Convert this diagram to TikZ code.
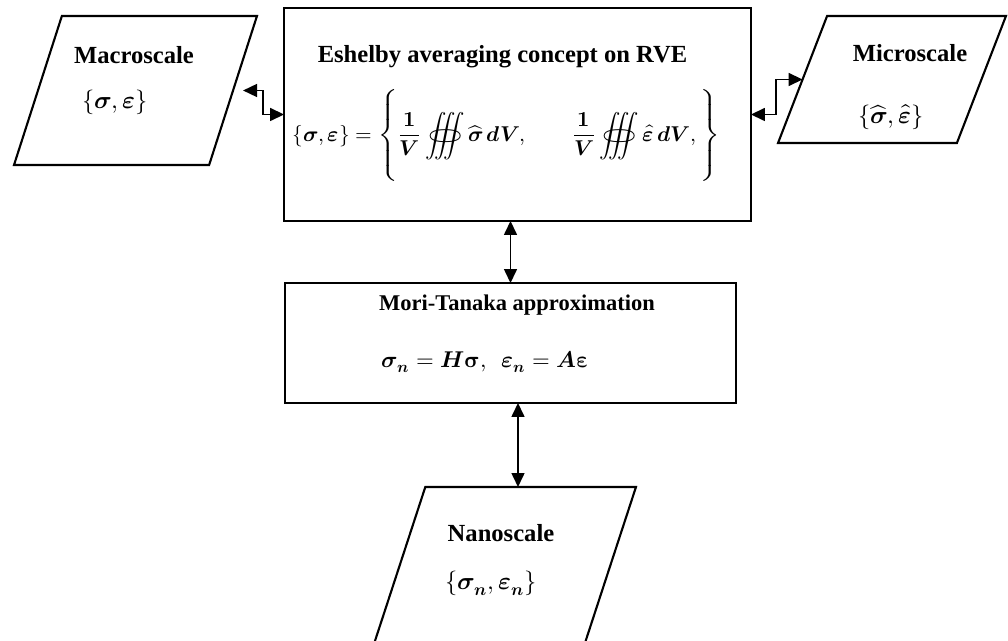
\documentclass[tikz,border=0pt]{standalone}
\usepackage{fontspec}
\usepackage{unicode-math}
\setmainfont{Liberation Serif}
\setmathfont{Latin Modern Math}
\usetikzlibrary{shapes.geometric,arrows.meta}

\tikzset{
  box/.style={draw,line width=1.2pt,rectangle,inner sep=0pt,outer sep=0pt},
  slant/.style 2 args={draw,line width=1.2pt,trapezium,trapezium left angle=#1,
    trapezium right angle=#2,trapezium stretches=true,inner sep=1pt,outer sep=0pt},
  title/.style={font=\bfseries\fontsize{14}{16}\selectfont},
  eq/.style={font=\fontsize{14}{16}\selectfont},
  biarrow/.style={line width=0.9pt,{Triangle[length=0.28cm,width=0.26cm]}-{Triangle[length=0.28cm,width=0.26cm]}}
}

\begin{document}
\begin{tikzpicture}[x=0.02cm,y=-0.02cm]
    \useasboundingbox (0,0) rectangle (1008,641);
    % scales
    \node[slant={72}{108},minimum width=4.86cm,minimum height=2.98cm] (macro) at (135.5,90.5) {};
    \node[slant={69.3}{110.7},minimum width=4.56cm,minimum height=2.54cm] (micro) at (892,79.5) {};
    \node[slant={71.3}{108.7},minimum width=5.28cm,minimum height=3.26cm] (nano) at (504,568.5) {};
    % boxes
    \node[box,minimum width=9.34cm,minimum height=4.26cm] (eshelby) at (517.5,114.5) {};
    \node[box,minimum width=9.02cm,minimum height=2.4cm] (mori) at (510.5,343) {};
    % texts
    \node[title] (macrot) at (134,55) {Macroscale};
    \node[eq] (macroeq) at (115,102) {$\{\symbfit{\sigma},\symbfit{\varepsilon}\}$};
    \node[title] (microt) at (910,53) {Microscale};
    \node[eq] (microeq) at (891,117) {$\{\widehat{\symbfit{\sigma}},\hat{\symbfit{\varepsilon}}\}$};
    \node[title] (nanot) at (501,533) {Nanoscale};
    \node[eq] (nanoeq) at (491,583) {$\{\symbfit{\sigma}_{\symbfit{n}},\symbfit{\varepsilon}_{\symbfit{n}}\}$};
    \node[title] (eshelbyt) at (502.5,57) {Eshelby averaging concept on RVE};
    \node[eq,font=\fontsize{12.2}{14}\selectfont] (eshelbyeq) at (506,138) {$\displaystyle\{\symbfit{\sigma},\symbfit{\varepsilon}\}=\left\{\rule[-0.9cm]{0pt}{1.8cm}\frac{\symbf{1}}{\symbfit{V}}\oiiint\widehat{\symbfit{\sigma}}\,\symbfit{d}\symbfit{V},\qquad\frac{\symbf{1}}{\symbfit{V}}\oiiint\hat{\symbfit{\varepsilon}}\,\symbfit{d}\symbfit{V},\right\}$};
    \node[title,font=\bfseries\fontsize{12.8}{15}\selectfont] (morit) at (517,305) {Mori-Tanaka approximation};
    \node[eq,font=\fontsize{13}{15}\selectfont] (morieq) at (486,362) {$\symbfit{\sigma}_{\symbfit{n}}=\symbfit{H}\symbfup{\sigma},\ \ \symbfit{\varepsilon}_{\symbfit{n}}=\symbfit{A}\symbfup{\varepsilon}$};
    % links
    \draw[biarrow] ([xshift=0.2cm]macro.east) -- ++(20,0) |- (eshelby.west);
    \draw[biarrow] (eshelby.east) -- ++(25,0) |- (micro.west);
    \draw[biarrow] (eshelby.south -| mori.north) -- (mori.north);
    \draw[biarrow] ([xshift=0.15cm]mori.south) -- ([xshift=0.15cm]mori.south |- nano.north);
\end{tikzpicture}
\end{document}
